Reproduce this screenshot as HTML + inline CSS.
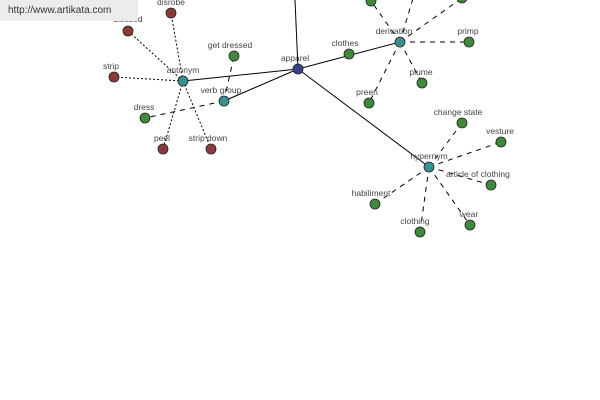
<!DOCTYPE html>
<html><head><style>
body{margin:0;background:#fff;width:600px;height:400px;overflow:hidden}
svg{position:absolute;left:0;top:0}
text{font-family:"Liberation Sans",sans-serif;font-size:8.5px;fill:#444;text-anchor:middle}
</style></head><body>
<svg width="600" height="400" viewBox="0 0 600 400">
<g stroke="#000" stroke-width="1" fill="none">
<line x1="298" y1="69" x2="295" y2="0"/>
<line x1="298" y1="69" x2="183" y2="81"/>
<line x1="298" y1="69" x2="224" y2="101"/>
<line x1="298" y1="69" x2="400" y2="42"/>
<line x1="298" y1="69" x2="429" y2="167"/>
</g>
<g stroke="#000" stroke-width="1" stroke-dasharray="2,2">
<line x1="183" y1="81" x2="171" y2="13"/>
<line x1="183" y1="81" x2="128" y2="31"/>
<line x1="183" y1="81" x2="114" y2="77"/>
<line x1="183" y1="81" x2="163" y2="149"/>
<line x1="183" y1="81" x2="211" y2="149"/>
</g>
<g stroke="#000" stroke-width="1" stroke-dasharray="5,5">
<line x1="224" y1="101" x2="234" y2="56"/>
<line x1="224" y1="101" x2="145" y2="118"/>
<line x1="400" y1="42" x2="469" y2="42"/>
<line x1="400" y1="42" x2="422" y2="83"/>
<line x1="400" y1="42" x2="369" y2="103"/>
<line x1="400" y1="42" x2="371" y2="1"/>
<line x1="400" y1="42" x2="414" y2="-5"/>
<line x1="400" y1="42" x2="462" y2="-2"/>
<line x1="429" y1="167" x2="462" y2="123"/>
<line x1="429" y1="167" x2="501" y2="142"/>
<line x1="429" y1="167" x2="491" y2="185"/>
<line x1="429" y1="167" x2="470" y2="225"/>
<line x1="429" y1="167" x2="420" y2="232"/>
<line x1="429" y1="167" x2="375" y2="204"/>
</g>
<g stroke="#222" stroke-width="0.8">
<circle cx="298" cy="69" r="5" fill="#3a3f8f"/>
<g fill="#3a8f8f">
<circle cx="183" cy="81" r="5"/><circle cx="224" cy="101" r="5"/><circle cx="400" cy="42" r="5"/><circle cx="429" cy="167" r="5"/>
</g>
<g fill="#8b3a3a">
<circle cx="171" cy="13" r="5"/><circle cx="128" cy="31" r="5"/><circle cx="114" cy="77" r="5"/><circle cx="163" cy="149" r="5"/><circle cx="211" cy="149" r="5"/>
</g>
<g fill="#3f8a3a">
<circle cx="234" cy="56" r="5"/><circle cx="145" cy="118" r="5"/><circle cx="349" cy="54" r="5"/><circle cx="469" cy="42" r="5"/><circle cx="422" cy="83" r="5"/><circle cx="369" cy="103" r="5"/><circle cx="371" cy="1" r="5"/><circle cx="462" cy="-2" r="5"/>
<circle cx="462" cy="123" r="5"/><circle cx="501" cy="142" r="5"/><circle cx="491" cy="185" r="5"/><circle cx="470" cy="225" r="5"/><circle cx="420" cy="232" r="5"/><circle cx="375" cy="204" r="5"/>
</g>
</g>
<text x="295" y="61">apparel</text>
<text x="183" y="73">antonym</text>
<text x="171" y="5">disrobe</text>
<text x="128" y="22">disused</text>
<text x="111" y="69">strip</text>
<text x="144" y="110">dress</text>
<text x="162" y="141">peel</text>
<text x="208" y="141">strip down</text>
<text x="221" y="93">verb group</text>
<text x="230" y="48">get dressed</text>
<text x="394" y="34">derivation</text>
<text x="345" y="46">clothes</text>
<text x="468" y="34">primp</text>
<text x="421" y="75">plume</text>
<text x="367" y="95">preen</text>
<text x="429" y="159">hypernym</text>
<text x="458" y="115">change state</text>
<text x="500" y="134">vesture</text>
<text x="478" y="177">article of clothing</text>
<text x="469" y="217">wear</text>
<text x="415" y="224">clothing</text>
<text x="371" y="196">habiliment</text>
</svg>
<div style="position:absolute;left:0;top:0;width:138px;height:21px;background:#ececec;font-family:'Liberation Sans',sans-serif;font-size:10px;color:#333;line-height:21px;padding-left:8px;box-sizing:border-box">http://www.artikata.com</div>
</body></html>
